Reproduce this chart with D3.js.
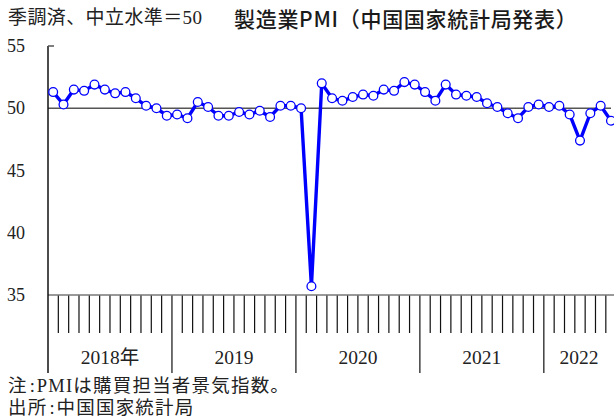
<!DOCTYPE html>
<html>
<head>
<meta charset="utf-8">
<script src="https://cdn.jsdelivr.net/npm/d3@7"></script>
<style>
  body { margin: 0; background: #fff; }
  svg { display: block; }
  .serif { font-family: "Liberation Serif", "Noto Sans CJK JP", serif; }
  .sans { font-family: "Noto Sans CJK JP", "Noto Sans", sans-serif; }
</style>
</head>
<body>
<script>
  // China NBS manufacturing PMI, monthly, Jan 2018 - Jul 2022
  const years = ['2018年', '2019', '2020', '2021', '2022'];
  const pmi2018 = [51.3, 50.3, 51.5, 51.4, 51.9, 51.5, 51.2, 51.3, 50.8, 50.2, 50.0, 49.4];
  const pmi2019 = [49.5, 49.2, 50.5, 50.1, 49.4, 49.4, 49.7, 49.5, 49.8, 49.3, 50.2, 50.2];
  const pmi2020 = [50.0, 35.7, 52.0, 50.8, 50.6, 50.9, 51.1, 51.0, 51.5, 51.4, 52.1, 51.9];
  const pmi2021 = [51.3, 50.6, 51.9, 51.1, 51.0, 50.9, 50.4, 50.1, 49.6, 49.2, 50.1, 50.3];
  const pmi2022 = [50.1, 50.2, 49.5, 47.4, 49.6, 50.2, 49.0];
  const yTicks = [35, 40, 45, 50, 55];

  const values = [].concat(pmi2018, pmi2019, pmi2020, pmi2021, pmi2022);

  const W = 614, H = 419;
  const plotLeft = 48, plotTop = 46, axisY = 295, plotRight = W;
  const monthW = 10.33;

  const svg = d3.select('body').append('svg').attr('width', W).attr('height', H);

  const x = d3.scaleLinear().domain([0, 60]).range([plotLeft, plotLeft + 60 * monthW]);
  const y = d3.scaleLinear().domain([35, 55]).range([axisY, plotTop]);

  // titles
  svg.append('text').attr('class', 'serif').attr('x', 8).attr('y', 24)
    .attr('font-size', 19).attr('letter-spacing', 0.4).attr('fill', '#222')
    .text('季調済、中立水準＝50');
  svg.append('text').attr('class', 'sans').attr('x', 234).attr('y', 27)
    .attr('font-size', 21).attr('font-weight', 500).attr('letter-spacing', 0.7)
    .attr('fill', '#1a1a1a')
    .text('製造業PMI（中国国家統計局発表）');

  // y tick labels
  svg.selectAll('.ylab').data(yTicks).enter().append('text')
    .attr('class', 'serif').attr('x', 7).attr('y', d => y(d) + 6)
    .attr('font-size', 18).attr('fill', '#222').text(d => d);

  // month ticks
  const monthTicks = d3.range(0, 60);
  svg.selectAll('.mt').data(monthTicks.filter(d => d % 12 !== 0)).enter().append('line')
    .attr('x1', d => x(d)).attr('x2', d => x(d))
    .attr('y1', axisY).attr('y2', 333)
    .attr('stroke', '#111').attr('stroke-width', 1.2);
  // year boundaries
  svg.selectAll('.yt').data([12, 24, 36, 48]).enter().append('line')
    .attr('x1', d => x(d)).attr('x2', d => x(d))
    .attr('y1', axisY).attr('y2', 373)
    .attr('stroke', '#111').attr('stroke-width', 1.2);

  // year labels, centred within the visible part of each year
  svg.selectAll('.xlab').data(years).enter().append('text')
    .attr('class', 'serif')
    .attr('x', (d, i) => (x(i * 12) + Math.min(x(i * 12 + 12), plotRight)) / 2)
    .attr('y', 364).attr('text-anchor', 'middle')
    .attr('font-size', 19.5).attr('fill', '#222').text(d => d);

  // axes
  svg.append('line').attr('x1', plotLeft).attr('x2', plotRight).attr('y1', axisY).attr('y2', axisY)
    .attr('stroke', '#777').attr('stroke-width', 1.5);
  svg.append('line').attr('x1', plotLeft).attr('x2', 611).attr('y1', y(50)).attr('y2', y(50))
    .attr('stroke', '#555').attr('stroke-width', 1.5);
  svg.append('line').attr('x1', plotLeft).attr('x2', plotLeft).attr('y1', plotTop).attr('y2', 373)
    .attr('stroke', '#111').attr('stroke-width', 1.5);
  svg.append('line').attr('x1', plotLeft).attr('x2', plotLeft + 6).attr('y1', plotTop).attr('y2', plotTop)
    .attr('stroke', '#555').attr('stroke-width', 1.5);

  // series
  const line = d3.line().x((d, i) => x(i + 0.5)).y(d => y(d));
  svg.append('path').datum(values).attr('d', line)
    .attr('fill', 'none').attr('stroke', '#0000ff').attr('stroke-width', 3.4)
    .attr('stroke-linejoin', 'round');
  svg.selectAll('.pt').data(values).enter().append('circle')
    .attr('cx', (d, i) => x(i + 0.5)).attr('cy', d => y(d)).attr('r', 4.4)
    .attr('fill', '#fff').attr('stroke', '#0000ff').attr('stroke-width', 1.3);

  // notes: label, colon, body (colon gets a little room on both sides)
  const notes = [['注', 'PMIは購買担当者景気指数。'], ['出所', '中国国家統計局']];
  const noteText = svg.selectAll('.note').data(notes).enter().append('text')
    .attr('class', 'serif').attr('x', 8).attr('y', (d, i) => 392 + i * 22)
    .attr('font-size', 18.5).attr('fill', '#222');
  noteText.append('tspan').attr('letter-spacing', 1.2).text(d => d[0]);
  noteText.append('tspan').attr('dx', 2).text(':');
  noteText.append('tspan').attr('dx', 2).attr('letter-spacing', 1.2).text(d => d[1]);
</script>
</body>
</html>
